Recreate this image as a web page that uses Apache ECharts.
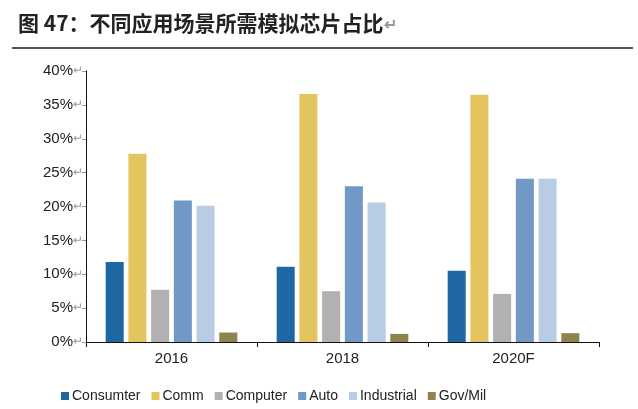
<!DOCTYPE html>
<html>
<head>
<meta charset="utf-8">
<script src="https://cdn.jsdelivr.net/npm/echarts@6/dist/echarts.min.js"></script>
<style>
  html, body { margin: 0; padding: 0; background: #fff; }
  #chart0 { width: 638px; height: 409px; }
</style>
</head>
<body>
<div id="chart0"></div>
<script>
// data (percent)
var years = ['2016', '2018', '2020F'];
var consumter = [11.8, 11.1, 10.5];
var comm = [27.8, 36.6, 36.5];
var computer = [7.7, 7.5, 7.1];
var auto = [20.9, 23.0, 24.1];
var industrial = [20.1, 20.6, 24.1];
var govMil = [1.4, 1.2, 1.3];
var yTicks = [0, 5, 10, 15, 20, 25, 30, 35, 40];

var names = ['Consumter', 'Comm', 'Computer', 'Auto', 'Industrial', 'Gov/Mil'];
var colors = ['#1f67a3', '#e4c45f', '#b1b1b1', '#7298c6', '#b8cce4', '#8f844f'];
var values = [consumter, comm, computer, auto, industrial, govMil];

var chart0 = echarts.init(document.getElementById('chart0'));

var series = names.map(function (n, i) {
    return {
        name: n,
        type: 'bar',
        data: values[i],
        barGap: '26%',
        barCategoryGap: '23%',
        itemStyle: { color: colors[i] }
    };
});

var option = {
    animation: false,
    textStyle: { fontFamily: 'Liberation Sans, Arial, sans-serif' },
    title: {
        text: '图 47：不同应用场景所需模拟芯片占比{r|↵}',
        left: 13,
        top: 8,
        textStyle: {
            fontFamily: 'Noto Sans CJK SC, sans-serif',
            fontSize: 21,
            fontWeight: 'bold',
            color: '#222',
            rich: { r: { color: '#999', fontSize: 16 } }
        }
    },
    graphic: [{
        type: 'line',
        shape: { x1: 12, y1: 48, x2: 633, y2: 48 },
        style: { stroke: '#555', lineWidth: 2 }
    }],
    legend: {
        data: names,
        bottom: 1,
        left: 56,
        itemWidth: 8,
        itemHeight: 8,
        itemGap: 11,
        icon: 'rect',
        textStyle: { fontSize: 14, color: '#222', padding: [0, 0, 0, -2] }
    },
    grid: { left: 86, right: 39, top: 71, bottom: 67 },
    xAxis: {
        type: 'category',
        data: years,
        axisLine: { lineStyle: { color: '#111', width: 1 } },
        axisTick: { show: true, length: 5, lineStyle: { color: '#111' } },
        axisLabel: { fontSize: 15, color: '#222', margin: 9 }
    },
    yAxis: {
        type: 'value',
        min: yTicks[0],
        max: yTicks[yTicks.length - 1],
        interval: 5,
        axisLine: { show: true, lineStyle: { color: '#111', width: 1 } },
        axisTick: { show: true, length: 4, lineStyle: { color: '#999' } },
        splitLine: { show: false },
        axisLabel: {
            fontSize: 15,
            color: '#222',
            margin: 3,
            formatter: function (v) { return v + '%{r|↵}'; },
            rich: { r: { color: '#999', fontSize: 12 } }
        }
    },
    series: series
};

chart0.setOption(option);
</script>
</body>
</html>
